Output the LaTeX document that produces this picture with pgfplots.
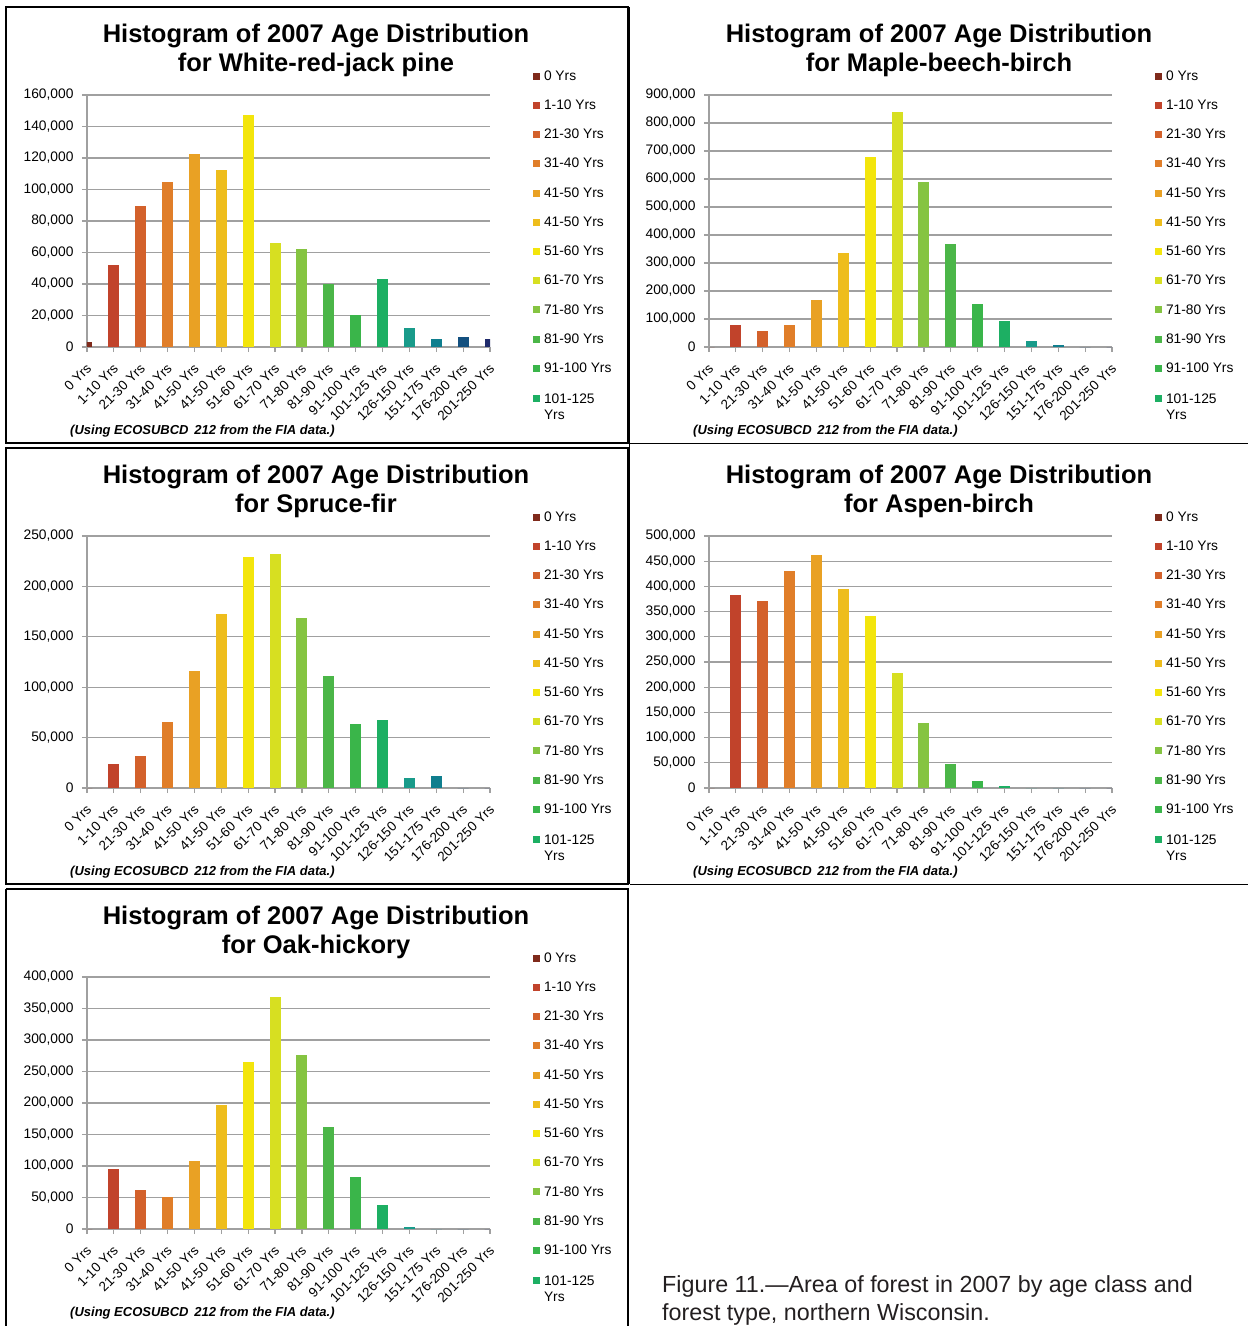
\documentclass[border=0pt]{standalone}
\usepackage{pgfplots}
\pgfplotsset{compat=1.18}
\usepackage{pgfplotstable}
\usepackage{fontspec}
\setmainfont{Liberation Sans}

\definecolor{c0}{HTML}{7F2A1B}
\definecolor{c1}{HTML}{C1432B}
\definecolor{c2}{HTML}{D3612B}
\definecolor{c3}{HTML}{E07E29}
\definecolor{c4}{HTML}{E9A124}
\definecolor{c5}{HTML}{EEBD1C}
\definecolor{c6}{HTML}{F3E50C}
\definecolor{c7}{HTML}{D7DF21}
\definecolor{c8}{HTML}{85C441}
\definecolor{c9}{HTML}{4BB648}
\definecolor{c10}{HTML}{3AB54A}
\definecolor{c11}{HTML}{1DAF63}
\definecolor{c12}{HTML}{199B8A}
\definecolor{c13}{HTML}{0F7E8E}
\definecolor{c14}{HTML}{13507F}
\definecolor{c15}{HTML}{1F2A6B}
\definecolor{gridc}{HTML}{A0A0A0}
\definecolor{captc}{HTML}{231F20}

\pgfplotstableread{
x y
0 3000
1 52000
2 89400
3 104700
4 122400
5 112300
6 147100
7 66000
8 62200
9 40200
10 20400
11 42900
12 12000
13 5100
14 6300
15 5300
}\pine

\pgfplotstableread{
x y
0 0
1 79600
2 58200
3 79600
4 168600
5 336100
6 678100
7 838500
8 589100
9 368200
10 154400
11 93800
12 22600
13 8300
14 0
15 0
}\maple

\pgfplotstableread{
x y
0 0
1 24100
2 32000
3 65600
4 116100
5 172500
6 228900
7 231900
8 168500
9 111100
10 63700
11 67600
12 10200
13 12200
14 0
15 0
}\spruce

\pgfplotstableread{
x y
0 0
1 382600
2 370700
3 430100
4 461700
5 394500
6 341000
7 228200
8 129300
9 48200
10 14500
11 4600
12 0
13 0
14 0
15 0
}\aspen

\pgfplotstableread{
x y
0 0
1 94700
2 61600
3 50500
4 107400
5 197400
6 265300
7 367900
8 276300
9 162600
10 82100
11 37900
12 3200
13 0
14 0
15 0
}\oak

\pgfplotsset{
  histo/.style={
    scale only axis, width=403pt, height=252pt, anchor=south west,
    xmin=0, xmax=15, ymin=0,
    axis x line*=bottom, axis y line*=left,
    axis line style={gridc, line width=1.2pt},
    ymajorgrids, grid style={gridc, line width=1.2pt},
    tick align=outside, major tick length=5pt,
    tick style={gridc, line width=1.2pt},
    xtick={0,...,15},
    xticklabels={0 Yrs,1-10 Yrs,21-30 Yrs,31-40 Yrs,41-50 Yrs,41-50 Yrs,51-60 Yrs,61-70 Yrs,71-80 Yrs,81-90 Yrs,91-100 Yrs,101-125 Yrs,126-150 Yrs,151-175 Yrs,176-200 Yrs,201-250 Yrs},
    xticklabel style={font=\fontsize{13.5}{16}\selectfont, xshift=2pt, yshift=-14pt, rotate=45, anchor=east, inner sep=0pt},
    yticklabel style={font=\fontsize{13.8}{16}\selectfont, xshift=-5pt, /pgf/number format/fixed, /pgf/number format/1000 sep={,}, /pgf/number format/assume math mode=true},
    scaled y ticks=false,
    legend entries={0 Yrs,1-10 Yrs,21-30 Yrs,31-40 Yrs,41-50 Yrs,41-50 Yrs,51-60 Yrs,61-70 Yrs,71-80 Yrs,81-90 Yrs,91-100 Yrs,{\raisebox{0pt}[\height][0pt]{\begin{tabular}[t]{@{}l@{}}101-125\\Yrs\end{tabular}}}},
    legend cell align=left,
    legend style={draw=none, fill=none, at={(1,1)}, anchor=north west, xshift=43pt, yshift=24.5pt,
      inner sep=0pt, outer sep=0pt, row sep=18.1pt, font=\fontsize{13.8}{16}\selectfont,
      nodes={inner xsep=4pt, inner ysep=0pt}},
    legend image code/.code={\fill[##1] (0pt,-3.5pt) rectangle (7pt,3.5pt);},
  }
}

\newcommand{\panel}[5]{%
\begin{axis}[histo, at={(#1pt,-#2pt)}, ymax=#4, ytick distance=#5]
\pgfplotsinvokeforeach{0,...,15}{%
\addplot[ybar, bar width=11pt, bar shift=0pt, fill=c##1, draw=none, restrict expr to domain={\coordindex}{##1:##1}] table[x=x,y=y]{#3};
}
\end{axis}}

\newcommand{\ttl}[3]{%
\node[anchor=base, inner sep=0pt, font=\fontsize{25.5}{30}\selectfont\bfseries] at (#1pt,-#2pt) {Histogram of 2007 Age Distribution};
\node[anchor=base, inner sep=0pt, font=\fontsize{25.5}{30}\selectfont\bfseries] at (#1pt,-#2pt-29pt) {#3};}

\newcommand{\foot}[2]{%
\node[anchor=base west, inner sep=0pt, font=\fontsize{13}{15}\selectfont\bfseries\itshape] at (#1pt,-#2pt) {(Using ECOSUBCD\hspace{0.45em}212 from the FIA data.)};}

\begin{document}
\begin{tikzpicture}[x=1pt,y=1pt]
\useasboundingbox (0,0) rectangle (1248,-1326);
% panel borders
\draw[line width=1.5pt] (6,-7) rectangle (628,-443);
\draw[line width=1.5pt] (6,-448) rectangle (628,-884);
\draw[line width=1.5pt] (6,-889) -- (6,-1330) (6,-889) -- (628,-889) -- (628,-1330);
\draw[line width=1.5pt] (629.5,-7) -- (629.5,-884);
\draw[line width=1.5pt] (629.5,-443.5) -- (1250,-443.5);
\draw[line width=1.5pt] (629.5,-884.5) -- (1250,-884.5);

\panel{87}{347}{\pine}{160000}{20000}
\panel{709}{347}{\maple}{900000}{100000}
\panel{87}{788}{\spruce}{250000}{50000}
\panel{709}{788}{\aspen}{500000}{50000}
\panel{87}{1229}{\oak}{400000}{50000}

\ttl{316}{42}{for White-red-jack pine}
\ttl{939}{42}{for Maple-beech-birch}
\ttl{316}{483}{for Spruce-fir}
\ttl{939}{483}{for Aspen-birch}
\ttl{316}{924}{for Oak-hickory}

\foot{70}{434}
\foot{693}{434}
\foot{70}{875}
\foot{693}{875}
\foot{70}{1316}

\node[anchor=base west, inner sep=0pt, text=captc, font=\fontsize{23.3}{28}\selectfont] at (662,-1292) {Figure 11.—Area of forest in 2007 by age class and};
\node[anchor=base west, inner sep=0pt, text=captc, font=\fontsize{23.3}{28}\selectfont] at (662,-1320) {forest type, northern Wisconsin.};
\end{tikzpicture}
\end{document}
